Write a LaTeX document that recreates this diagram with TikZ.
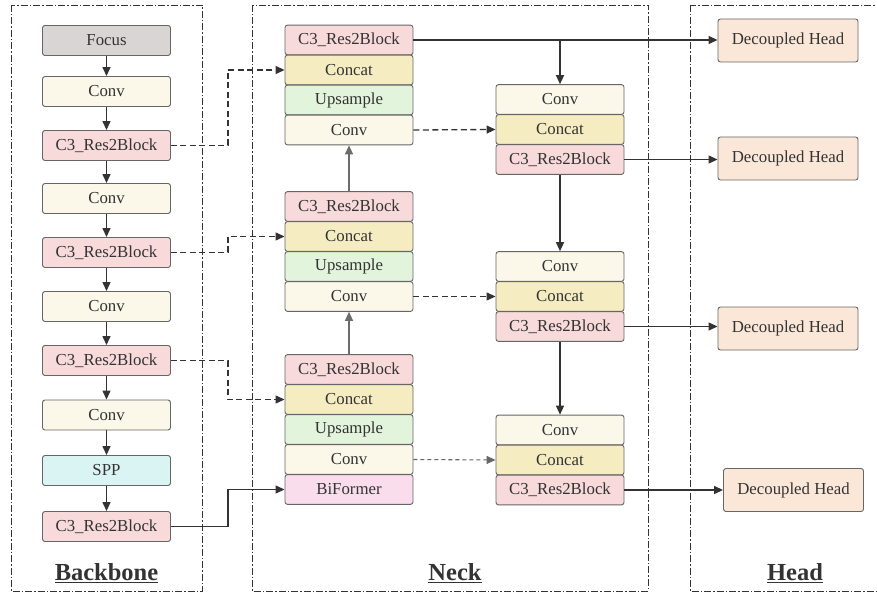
\documentclass[tikz,border=0pt]{standalone}
\usepackage{fontspec}
\setmainfont{Liberation Serif}
\usetikzlibrary{arrows.meta,calc}
\definecolor{focusc}{HTML}{DAD5D5}
\definecolor{convc}{HTML}{FBF7E9}
\definecolor{c3c}{HTML}{F8DADA}
\definecolor{concatc}{HTML}{F5EDC1}
\definecolor{upsc}{HTML}{E3F4DC}
\definecolor{sppc}{HTML}{DAF3F3}
\definecolor{bifc}{HTML}{F9DDEC}
\definecolor{headc}{HTML}{FBE7D8}
\definecolor{bordc}{HTML}{666666}
\definecolor{textc}{HTML}{333333}
\definecolor{linec}{HTML}{333333}
\begin{document}
\begin{tikzpicture}[x=1pt,y=-1pt,
  blk/.style={draw=bordc, line width=0.9pt, rounded corners=2.5pt, minimum width=128pt, minimum height=30pt, inner sep=0pt, text=textc, font=\fontsize{16.8}{18}\selectfont},
  sblk/.style={blk, minimum height=29.75pt},
  hblk/.style={blk, fill=headc, minimum width=140pt, minimum height=43pt},
  frame/.style={draw=linec, line width=0.9pt, dash pattern=on 7pt off 2pt on 1.5pt off 2pt},
  arr/.style={draw=linec, line width=1.3pt, -{Triangle[length=9pt,width=8pt]}},
  garr/.style={draw=gray!85!black, line width=1.2pt, -{Triangle[length=9pt,width=8pt]}},
  darr/.style={draw=linec, line width=1.3pt, dash pattern=on 6pt off 3.5pt, -{Triangle[length=9pt,width=8pt]}},
  ldarr/.style={draw=gray!80!black, line width=1.1pt, dash pattern=on 4pt off 3pt, -{Triangle[length=9pt,width=8pt]}},
  lbl/.style={text=textc, font=\fontsize{24.5}{26}\selectfont\bfseries}
]
\useasboundingbox (0,0) rectangle (877,593);
% frames
\draw[frame] (11,5) rectangle (202,591);
\draw[frame] (252,5) rectangle (648,591);
\draw[frame] (690,5) rectangle (882,591);
% backbone
\node[blk, fill=focusc] (b1) at (106.5,40.5) {Focus};
\node[blk, fill=convc] (b2) at (106.5,91.5) {Conv};
\node[blk, fill=c3c] (b3) at (106.5,145.5) {C3\_Res2Block};
\node[blk, fill=convc] (b4) at (106.5,198.5) {Conv};
\node[blk, fill=c3c] (b5) at (106.5,252.5) {C3\_Res2Block};
\node[blk, fill=convc] (b6) at (106.5,306.5) {Conv};
\node[blk, fill=c3c] (b7) at (106.5,360.5) {C3\_Res2Block};
\node[blk, fill=convc] (b8) at (106.5,415) {Conv};
\node[blk, fill=sppc] (b9) at (106.5,470.5) {SPP};
\node[blk, fill=c3c] (b10) at (106.5,526.5) {C3\_Res2Block};
\foreach \a/\b in {b1/b2,b2/b3,b3/b4,b4/b5,b5/b6,b6/b7,b7/b8,b8/b9,b9/b10}
  \draw[arr] (\a) -- (\b);
% neck left column, top group
\node[sblk, fill=c3c] (t1) at (349,40) {C3\_Res2Block};
\node[sblk, fill=concatc] (t2) at (349,70) {Concat};
\node[sblk, fill=upsc] (t3) at (349,100) {Upsample};
\node[sblk, fill=convc] (t4) at (349,130) {Conv};
% middle group
\node[sblk, fill=c3c] (m1) at (349,206.5) {C3\_Res2Block};
\node[sblk, fill=concatc] (m2) at (349,236.5) {Concat};
\node[sblk, fill=upsc] (m3) at (349,266.5) {Upsample};
\node[sblk, fill=convc] (m4) at (349,296.5) {Conv};
% bottom group
\node[sblk, fill=c3c] (l1) at (349,369.5) {C3\_Res2Block};
\node[sblk, fill=concatc] (l2) at (349,399.5) {Concat};
\node[sblk, fill=upsc] (l3) at (349,429.5) {Upsample};
\node[sblk, fill=convc] (l4) at (349,459.5) {Conv};
\node[sblk, fill=bifc] (l5) at (349,489.5) {BiFormer};
% neck right column
\node[sblk, fill=convc] (r1) at (560,99.5) {Conv};
\node[sblk, fill=concatc] (r2) at (560,129.5) {Concat};
\node[sblk, fill=c3c] (r3) at (560,159.5) {C3\_Res2Block};
\node[sblk, fill=convc] (s1) at (560,266.5) {Conv};
\node[sblk, fill=concatc] (s2) at (560,296.5) {Concat};
\node[sblk, fill=c3c] (s3) at (560,326.5) {C3\_Res2Block};
\node[sblk, fill=convc] (u1) at (560,430) {Conv};
\node[sblk, fill=concatc] (u2) at (560,460) {Concat};
\node[sblk, fill=c3c] (u3) at (560,490) {C3\_Res2Block};
% heads
\node[hblk] (h1) at (788,40.5) {Decoupled Head};
\node[hblk] (h2) at (788,158.5) {Decoupled Head};
\node[hblk] (h3) at (788,328.5) {Decoupled Head};
\node[hblk] (h4) at (793.5,490) {Decoupled Head};
% labels
\node[lbl] (lb) at (106.5,573) {\underline{Backbone}};
\node[lbl] (ln) at (455,573) {\underline{Neck}};
\node[lbl] (lh) at (795,573) {\underline{Head}};
% backbone to neck
\draw[darr] (b3.east) -- ([xshift=57pt]b3.east) |- (t2.west);
\draw[darr] (b5.east) -- ([xshift=57pt]b5.east) |- (m2.west);
\draw[darr] (b7.east) -- ([xshift=57pt]b7.east) |- (l2.west);
\draw[arr] (b10.east) -- ([xshift=57pt]b10.east) |- (l5.west);
% neck up arrows
\draw[garr] (l1.north) -- (m4.south);
\draw[garr] (m1.north) -- (t4.south);
% neck dashed across
\draw[darr] (t4.east) -- (r2.west);
\draw[darr] (m4.east) -- (s2.west);
\draw[ldarr] (l4.east) -- (u2.west);
% top path
\draw[arr] (t1.east) -- (t1.east -| h1.west);
\draw[arr] (t1.east -| r1.north) -- (r1.north);
\draw[arr] (r3.east) -- (r3.east -| h2.west);
\draw[arr] (r3.south) -- (s1.north);
\draw[arr] (s3.east) -- (s3.east -| h3.west);
\draw[arr] (s3.south) -- (u1.north);
\draw[arr] (u3.east) -- (u3.east -| h4.west);
\end{tikzpicture}
\end{document}
